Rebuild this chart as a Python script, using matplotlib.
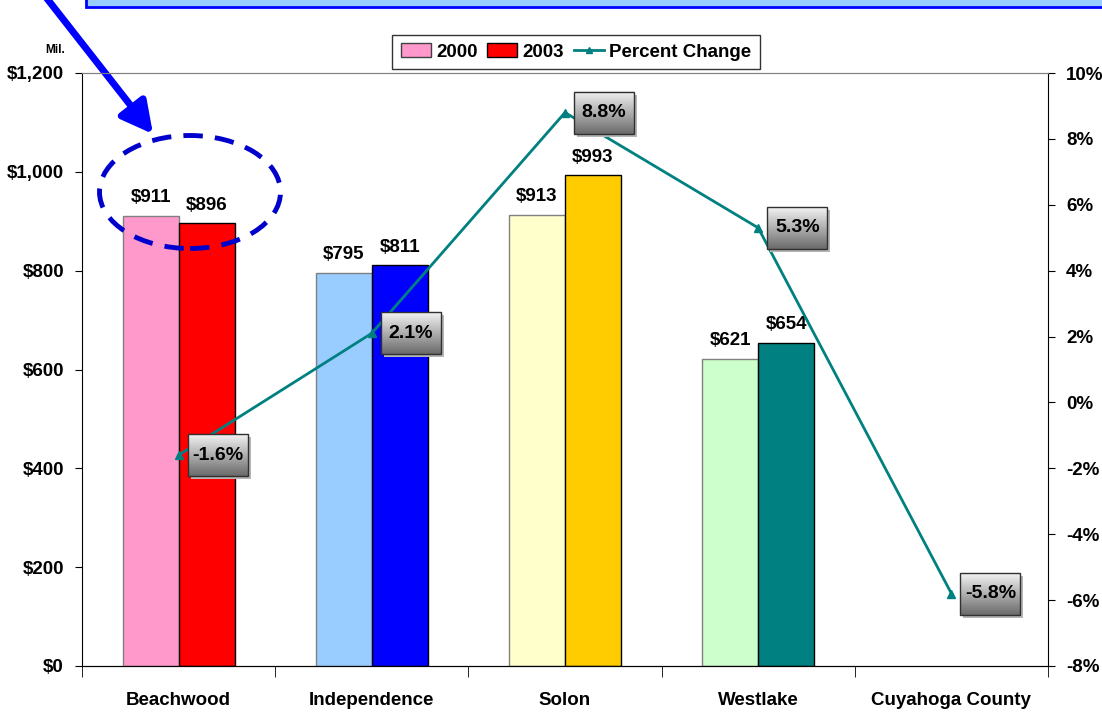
import numpy as np
import matplotlib.pyplot as plt
import matplotlib.patches as mpatches
from matplotlib.lines import Line2D
from matplotlib.ticker import FuncFormatter, MultipleLocator, FixedLocator

plt.rcParams['font.family'] = ['Liberation Sans', 'DejaVu Sans']
plt.rcParams['font.weight'] = 'bold'

# data
cities = ["Beachwood", "Independence", "Solon", "Westlake", "Cuyahoga County"]
val_2000 = [911, 795, 913, 621]
val_2003 = [896, 811, 993, 654]
pct_change = [-1.6, 2.1, 8.8, 5.3, -5.8]

colors_2000 = ["#FF99CC", "#99CCFF", "#FFFFCC", "#CCFFCC"]
colors_2003 = ["#FF0000", "#0000FF", "#FFCC00", "#008080"]
teal = "#008080"
fs = 13.5

W, H = 1102, 715
fig = plt.figure(figsize=(W / 100, H / 100), dpi=100)
ax = fig.add_axes([82 / W, 1 - 666 / H, (1048 - 82) / W, (666 - 73) / H])
ax2 = ax.twinx()

x = np.arange(len(val_2000))
bw = 0.29
b1 = ax.bar(x - bw / 2, val_2000, bw, color=colors_2000, edgecolor="#808080", lw=1, zorder=2)
b2 = ax.bar(x + bw / 2, val_2003, bw, color=colors_2003, edgecolor="black", lw=1, zorder=2)
for bars, vals in [(b1, val_2000), (b2, val_2003)]:
    for r, v in zip(bars, vals):
        ax.annotate(f"${v:,}", (r.get_x() + r.get_width() / 2, v), xytext=(0, 7),
                    textcoords="offset points", ha="center", va="bottom",
                    fontsize=fs, fontweight="bold")

ax.set_xlim(-0.5, len(cities) - 0.5)
ax.set_ylim(0, 1200)
ax.yaxis.set_major_locator(MultipleLocator(200))
ax.yaxis.set_major_formatter(FuncFormatter(lambda v, p: f"${int(v):,}"))
ax.tick_params(axis="y", length=5, pad=8, labelsize=fs)
ax.set_xticks(np.arange(len(cities)))
ax.set_xticklabels(cities, fontsize=fs, fontweight="bold")
ax.tick_params(axis="x", which="major", length=0, pad=19)
ax.xaxis.set_minor_locator(FixedLocator(np.arange(-0.5, len(cities), 1.0)))
ax.tick_params(axis="x", which="minor", length=8)
for lab in ax.get_yticklabels():
    lab.set_fontweight("bold")
ax.spines["top"].set_color("#808080")
ax.spines["right"].set_visible(False)

# percent change line
ax2.plot(np.arange(len(cities)), pct_change, color=teal, lw=2, marker="^", ms=6, zorder=3)
ax2.set_ylim(-8, 10)
ax2.yaxis.set_major_locator(MultipleLocator(2))
ax2.yaxis.set_major_formatter(FuncFormatter(lambda v, p: f"{int(v)}%"))
ax2.tick_params(axis="y", length=5, pad=8, labelsize=fs)
for lab in ax2.get_yticklabels():
    lab.set_fontweight("bold")
ax2.spines["top"].set_color("#808080")
ax2.spines["left"].set_visible(False)

# gradient label boxes beside the points
grad = np.linspace(0.95, 0.42, 64).reshape(-1, 1)
inv = ax2.transData.inverted()
for i, v in enumerate(pct_change):
    px, py = ax2.transData.transform((i, v))
    (x0, y0) = inv.transform((px + 9, py - 21))
    (x1, y1) = inv.transform((px + 69, py + 21))
    (sx, sy) = inv.transform((px + 12, py - 24))
    (sx1, sy1) = inv.transform((px + 72, py + 18))
    ax2.add_patch(mpatches.Rectangle((sx, sy), sx1 - sx, sy1 - sy, color="#b5b5b5",
                                     lw=0, zorder=4))
    ax2.imshow(grad, extent=(x0, x1, y0, y1), cmap="gray", vmin=0, vmax=1,
               aspect="auto", zorder=5, origin="upper")
    ax2.add_patch(mpatches.Rectangle((x0, y0), x1 - x0, y1 - y0, fill=False,
                                     ec="#303030", lw=1, zorder=6))
    ax2.text((x0 + x1) / 2, (y0 + y1) / 2, f"{v:.1f}%", ha="center", va="center",
             fontsize=14, fontweight="bold", zorder=7)
ax2.set_xlim(-0.5, len(cities) - 0.5)
ax2.set_ylim(-8, 10)

# legend
handles = [mpatches.Patch(fc=colors_2000[0], ec="#404040", label="2000"),
           mpatches.Patch(fc=colors_2003[0], ec="black", label="2003"),
           Line2D([], [], color=teal, lw=2, marker="^", ms=5, label="Percent Change")]
leg = fig.legend(handles=handles, loc="center", bbox_to_anchor=(576 / W, 1 - 52 / H),
                 ncol=3, fontsize=fs, frameon=True, fancybox=False, edgecolor="black",
                 handlelength=1.6, handleheight=0.7, handletextpad=0.3, columnspacing=0.5,
                 borderpad=0.45)
leg.get_frame().set_linewidth(1)
for t in leg.get_texts():
    t.set_fontweight("bold")

fig.text(55 / W, 1 - 50 / H, "Mil.", ha="center", va="center", fontsize=8.5, fontweight="bold")

# decorations: banner, arrow, dashed ellipse
fig.patches.append(mpatches.Rectangle((86 / W, 1 - 7 / H), 1, 0.05, transform=fig.transFigure,
                                      fc="#99CCFF", ec="#0000FF", lw=2, zorder=10))
ax.annotate("", xy=(153, H - 134), xycoords="figure pixels",
            xytext=(45, H + 4), textcoords="figure pixels",
            arrowprops=dict(arrowstyle="-|>,head_length=1.9,head_width=1.0",
                            color="#0000FF", lw=5, shrinkA=0, shrinkB=0),
            annotation_clip=False, zorder=10)
ell = mpatches.Ellipse((190 / W, 1 - 192 / H), 181 / W, 113 / H, transform=fig.transFigure,
                       fill=False, ec="#0000CC", lw=3.5, ls=(0, (4, 2.5)), zorder=10)
fig.patches.append(ell)

fig.savefig("out.png", dpi=100)
